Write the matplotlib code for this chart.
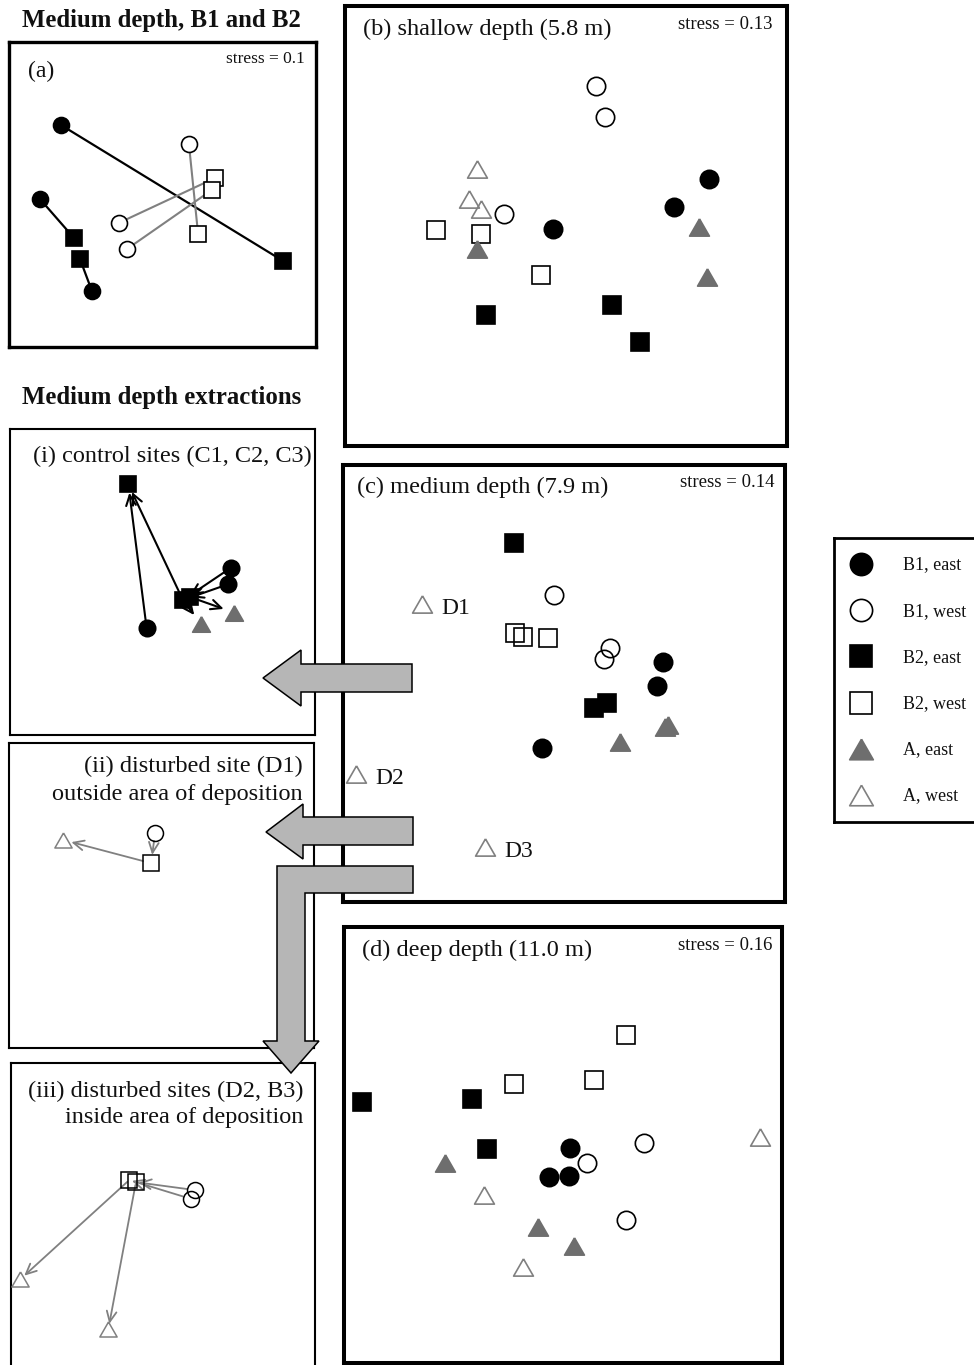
import matplotlib
matplotlib.use("Agg")
import matplotlib.pyplot as plt
from matplotlib.patches import Polygon
from matplotlib.transforms import Affine2D

plt.rcParams['font.family'] = ['Liberation Serif', 'DejaVu Serif']

# ---------------- data: NMDS coordinates (panel units 0-100) ----------------
groups = ['B1, east', 'B1, west', 'B2, east', 'B2, west', 'A, east', 'A, west']

# (a) medium depth, B1 and B2 (pairs joined by lines, same index = same site)
a_b1_east_x = [16.9, 10.1, 27.0]
a_b1_east_y = [72.8, 48.5, 18.4]
a_b2_east_x = [89.3, 21.2, 23.1]
a_b2_east_y = [28.2, 35.7, 28.9]
a_b1_west_x = [58.6, 35.8, 38.4]
a_b1_west_y = [66.6, 40.7, 32.1]
a_b2_west_x = [61.6, 67.1, 66.1]
a_b2_west_y = [37.0, 55.4, 51.5]

# (b) shallow depth
b_b1_east_x = [82.4, 74.4, 47.1]
b_b1_east_y = [60.6, 54.4, 49.3]
b_b1_west_x = [56.9, 58.8, 36.0]
b_b1_west_y = [81.9, 74.8, 52.7]
b_b2_east_x = [31.8, 60.5, 66.7]
b_b2_east_y = [29.8, 32.0, 23.7]
b_b2_west_x = [20.7, 30.7, 44.3]
b_b2_west_y = [49.1, 48.1, 38.8]
b_a_east_x = [29.8, 80.0, 82.0]
b_a_east_y = [44.7, 49.7, 38.3]
b_a_west_x = [29.8, 28.1, 30.8]
b_a_west_y = [62.9, 56.1, 53.8]

# (c) medium depth
c_b1_east_x = [72.3, 71.1, 45.0]
c_b1_east_y = [54.9, 49.5, 35.3]
c_b1_west_x = [47.7, 60.4, 59.1]
c_b1_west_y = [70.3, 58.1, 55.5]
c_b2_east_x = [38.7, 59.7, 56.9]
c_b2_east_y = [82.1, 45.6, 44.3]
c_b2_west_x = [38.9, 40.8, 46.4]
c_b2_west_y = [61.5, 60.7, 60.5]
c_a_east_x = [73.6, 72.9, 62.7]
c_a_east_y = [40.5, 40.1, 36.5]
c_a_west_x = [17.9, 2.9, 32.1]
c_a_west_y = [68.2, 29.2, 12.5]
c_a_west_sites = ['D1', 'D2', 'D3']

# (d) deep depth
d_b1_east_x = [51.6, 46.9, 51.4]
d_b1_east_y = [49.2, 42.7, 42.9]
d_b1_west_x = [68.5, 55.4, 64.3]
d_b1_west_y = [50.4, 45.8, 32.8]
d_b2_east_x = [4.0, 29.2, 32.6]
d_b2_east_y = [59.9, 60.6, 49.1]
d_b2_west_x = [64.4, 57.1, 38.9]
d_b2_west_y = [75.2, 64.9, 64.0]
d_a_east_x = [23.1, 44.2, 52.6]
d_a_east_y = [45.8, 31.3, 26.8]
d_a_west_x = [95.0, 32.0, 40.9]
d_a_west_y = [51.9, 38.5, 22.1]

# (i) control sites
i_b1_east_x = [72.5, 71.6, 44.8]
i_b1_east_y = [54.7, 49.3, 34.9]
i_b2_east_x = [38.8, 56.7, 59.0]
i_b2_east_y = [81.9, 44.1, 45.1]
i_a_east_x = [62.6, 73.5]
i_a_east_y = [36.3, 40.0]
i_arrows = [('B1, east', 2, 'B2, east', 0), ('B2, east', 1, 'B2, east', 0),
            ('B1, east', 0, 'B2, east', 1), ('B1, east', 1, 'B2, east', 1),
            ('B2, east', 1, 'A, east', 0), ('B2, east', 2, 'A, east', 1)]

# (ii) disturbed site D1
ii_b1_west_x = [47.9]
ii_b1_west_y = [70.6]
ii_b2_west_x = [46.6]
ii_b2_west_y = [60.6]
ii_a_west_x = [17.8]
ii_a_west_y = [68.2]
ii_arrows = [('B1, west', 0, 'B2, west', 0), ('B2, west', 0, 'A, west', 0)]

# (iii) disturbed sites D2, B3
iii_b1_west_x = [60.5, 59.2]
iii_b1_west_y = [58.2, 55.3]
iii_b2_west_x = [38.9, 41.1]
iii_b2_west_y = [61.5, 60.8]
iii_a_west_x = [3.0, 32.0]
iii_a_west_y = [28.8, 12.4]
iii_arrows = [('B1, west', 0, 'B2, west', 1), ('B1, west', 1, 'B2, west', 0),
              ('B2, west', 0, 'A, west', 0), ('B2, west', 1, 'A, west', 1)]

# ---------------- styles ----------------
GREY_FILL = '#6e6e6e'
GREY_LINE = '#808080'
TRI = [(0, 0.87), (-1, -0.87), (1, -0.87), (0, 0.87)]
STYLE = {
    'B1, east': dict(marker='o', mfc='black', mec='black'),
    'B1, west': dict(marker='o', mfc='none', mec='black'),
    'B2, east': dict(marker='s', mfc='black', mec='black'),
    'B2, west': dict(marker='s', mfc='none', mec='black'),
    'A, east': dict(marker=TRI, mfc=GREY_FILL, mec=GREY_FILL),
    'A, west': dict(marker=TRI, mfc='none', mec=GREY_LINE),
}
TRI_SCALE = 1.08
TXT = '#111111'

W_PX, H_PX = 974, 1365
fig = plt.figure(figsize=(W_PX / 100, H_PX / 100), dpi=100)
PX = Affine2D().scale(1 / W_PX, -1 / H_PX).translate(0, 1) + fig.transFigure


def add_panel(left, top, right, bottom, lw):
    ax = fig.add_axes([left / W_PX, 1 - bottom / H_PX,
                       (right - left) / W_PX, (bottom - top) / H_PX])
    ax.set_xlim(0, 100)
    ax.set_ylim(0, 100)
    ax.set_xticks([])
    ax.set_yticks([])
    for s in ax.spines.values():
        s.set_linewidth(lw)
    return ax


def ftext(x, y, s, **kw):
    kw.setdefault('color', TXT)
    fig.text(x / W_PX, 1 - y / H_PX, s, transform=fig.transFigure, **kw)


def plot_groups(ax, data, ms, mew=1.2, fill_open=None):
    for g in groups:
        if g not in data:
            continue
        st = dict(STYLE[g])
        if fill_open and st['mfc'] == 'none':
            st['mfc'] = fill_open
        size = ms * TRI_SCALE if g.startswith('A') else ms
        xs, ys = data[g]
        ax.plot(xs, ys, ls='none', ms=size, mew=mew, zorder=4, **st)


def draw_arrows(ax, data, arrows, color, shrinks, lw=1.3):
    for g0, i0, g1, i1 in arrows:
        x0, y0 = data[g0][0][i0], data[g0][1][i0]
        x1, y1 = data[g1][0][i1], data[g1][1][i1]
        sa, sb = shrinks(g0, g1)
        ax.annotate('', xy=(x1, y1), xytext=(x0, y0), zorder=3,
                    arrowprops=dict(arrowstyle='->,head_length=0.75,head_width=0.35',
                                    color=color, lw=lw, shrinkA=sa, shrinkB=sb))


# ---------------- headers ----------------
ftext(161, 27, 'Medium depth, B1 and B2', ha='center', va='baseline',
      fontsize=17.8, fontweight='bold')
ftext(162, 404, 'Medium depth extractions', ha='center', va='baseline',
      fontsize=17.8, fontweight='bold')

# ---------------- panel (a) ----------------
ax_a = add_panel(9, 42, 316, 347, 2.4)
a_data = {'B1, east': (a_b1_east_x, a_b1_east_y), 'B2, east': (a_b2_east_x, a_b2_east_y),
          'B1, west': (a_b1_west_x, a_b1_west_y), 'B2, west': (a_b2_west_x, a_b2_west_y)}
for k in range(len(a_b1_east_x)):
    ax_a.plot([a_b1_east_x[k], a_b2_east_x[k]], [a_b1_east_y[k], a_b2_east_y[k]],
              color='black', lw=1.6, zorder=2)
for k in range(len(a_b1_west_x)):
    ax_a.plot([a_b1_west_x[k], a_b2_west_x[k]], [a_b1_west_y[k], a_b2_west_y[k]],
              color=GREY_LINE, lw=1.5, zorder=2)
plot_groups(ax_a, a_data, ms=11.5, fill_open='white')
ftext(28, 77, '(a)', ha='left', va='baseline', fontsize=17)
ftext(305, 63, 'stress = 0.1', ha='right', va='baseline', fontsize=12.5)

# ---------------- panel (b) ----------------
ax_b = add_panel(345, 6, 787, 446, 2.9)
b_data = {'B1, east': (b_b1_east_x, b_b1_east_y), 'B1, west': (b_b1_west_x, b_b1_west_y),
          'B2, east': (b_b2_east_x, b_b2_east_y), 'B2, west': (b_b2_west_x, b_b2_west_y),
          'A, east': (b_a_east_x, b_a_east_y), 'A, west': (b_a_west_x, b_a_west_y)}
plot_groups(ax_b, b_data, ms=13.2)
ftext(363, 35, '(b) shallow depth (5.8 m)', ha='left', va='baseline', fontsize=17.6)
ftext(773, 29, 'stress = 0.13', ha='right', va='baseline', fontsize=13.5)

# ---------------- panel (c) ----------------
ax_c = add_panel(343, 465, 785, 902, 2.9)
c_data = {'B1, east': (c_b1_east_x, c_b1_east_y), 'B1, west': (c_b1_west_x, c_b1_west_y),
          'B2, east': (c_b2_east_x, c_b2_east_y), 'B2, west': (c_b2_west_x, c_b2_west_y),
          'A, east': (c_a_east_x, c_a_east_y), 'A, west': (c_a_west_x, c_a_west_y)}
plot_groups(ax_c, c_data, ms=13.2)
for x, y, lab in zip(c_a_west_x, c_a_west_y, c_a_west_sites):
    ax_c.annotate(lab, xy=(x, y), xytext=(14, -7), textcoords='offset points',
                  ha='left', va='baseline', fontsize=17, color=TXT)
ftext(357, 493, '(c) medium depth (7.9 m)', ha='left', va='baseline', fontsize=17.6)
ftext(775, 487, 'stress = 0.14', ha='right', va='baseline', fontsize=13.5)

# ---------------- panel (d) ----------------
ax_d = add_panel(344, 927, 782, 1363, 2.9)
d_data = {'B1, east': (d_b1_east_x, d_b1_east_y), 'B1, west': (d_b1_west_x, d_b1_west_y),
          'B2, east': (d_b2_east_x, d_b2_east_y), 'B2, west': (d_b2_west_x, d_b2_west_y),
          'A, east': (d_a_east_x, d_a_east_y), 'A, west': (d_a_west_x, d_a_west_y)}
plot_groups(ax_d, d_data, ms=13.2)
ftext(362, 956, '(d) deep depth (11.0 m)', ha='left', va='baseline', fontsize=17.6)
ftext(772, 950, 'stress = 0.16', ha='right', va='baseline', fontsize=13.5)

# ---------------- panel (i) ----------------
ax_i = add_panel(10, 429, 315, 735, 1.5)
i_data = {'B1, east': (i_b1_east_x, i_b1_east_y), 'B2, east': (i_b2_east_x, i_b2_east_y),
          'A, east': (i_a_east_x, i_a_east_y)}
draw_arrows(ax_i, i_data, i_arrows, 'black',
            lambda g0, g1: (0, 8 if g1.startswith('A') else 6), lw=1.5)
plot_groups(ax_i, i_data, ms=11.8)
ftext(312, 462, '(i) control sites (C1, C2, C3)', ha='right', va='baseline', fontsize=17.5)

# ---------------- panel (ii) ----------------
ax_ii = add_panel(9, 743, 314, 1048, 1.5)
ii_data = {'B1, west': (ii_b1_west_x, ii_b1_west_y), 'B2, west': (ii_b2_west_x, ii_b2_west_y),
           'A, west': (ii_a_west_x, ii_a_west_y)}
draw_arrows(ax_ii, ii_data, ii_arrows, GREY_LINE, lambda g0, g1: (6, 6))
plot_groups(ax_ii, ii_data, ms=11.5, mew=1.1)
ftext(303, 772, '(ii) disturbed site (D1)', ha='right', va='baseline', fontsize=17.5)
ftext(303, 800, 'outside area of deposition', ha='right', va='baseline', fontsize=17.5)

# ---------------- panel (iii) ----------------
ax_iii = add_panel(11, 1063, 315, 1367, 1.5)
iii_data = {'B1, west': (iii_b1_west_x, iii_b1_west_y), 'B2, west': (iii_b2_west_x, iii_b2_west_y),
            'A, west': (iii_a_west_x, iii_a_west_y)}
draw_arrows(ax_iii, iii_data, iii_arrows, GREY_LINE,
            lambda g0, g1: (6 if g0.startswith('B1') else 2, 4 if g1.startswith('A') else 2))
plot_groups(ax_iii, iii_data, ms=11.5, mew=1.1)
ftext(303, 1097, '(iii) disturbed sites (D2, B3)', ha='right', va='baseline', fontsize=17.5)
ftext(303, 1123, 'inside area of deposition', ha='right', va='baseline', fontsize=17.5)

# ---------------- block arrows linking panels ----------------
ARROW_FC = '#b6b6b6'
block_arrows = [
    [(412, 664), (301, 664), (301, 650), (263, 678), (301, 706), (301, 692), (412, 692)],
    [(413, 817), (303, 817), (303, 804), (266, 832), (303, 859), (303, 845), (413, 845)],
    [(413, 866), (277, 866), (277, 1041), (263, 1041), (291, 1073), (319, 1041),
     (305, 1041), (305, 893), (413, 893)],
]
for verts in block_arrows:
    fig.add_artist(Polygon(verts, closed=True, transform=PX, facecolor=ARROW_FC,
                           edgecolor='black', lw=1.1, zorder=5))

# ---------------- legend ----------------
ax_leg = fig.add_axes([834 / W_PX, 1 - 822 / H_PX, 160 / W_PX, 284 / H_PX])
ax_leg.set_xlim(0, 160)
ax_leg.set_ylim(284, 0)
ax_leg.set_xticks([])
ax_leg.set_yticks([])
for s in ax_leg.spines.values():
    s.set_linewidth(2.0)
for k, g in enumerate(groups):
    yk = 26 + 46.2 * k
    size = 17 if g.startswith('A') else 16
    ax_leg.plot([27], [yk], ls='none', ms=size, mew=1.2, **STYLE[g])
    ax_leg.text(69, yk + 5.5, g, ha='left', va='baseline', fontsize=13, color=TXT)

fig.savefig('out.png', dpi=100)
